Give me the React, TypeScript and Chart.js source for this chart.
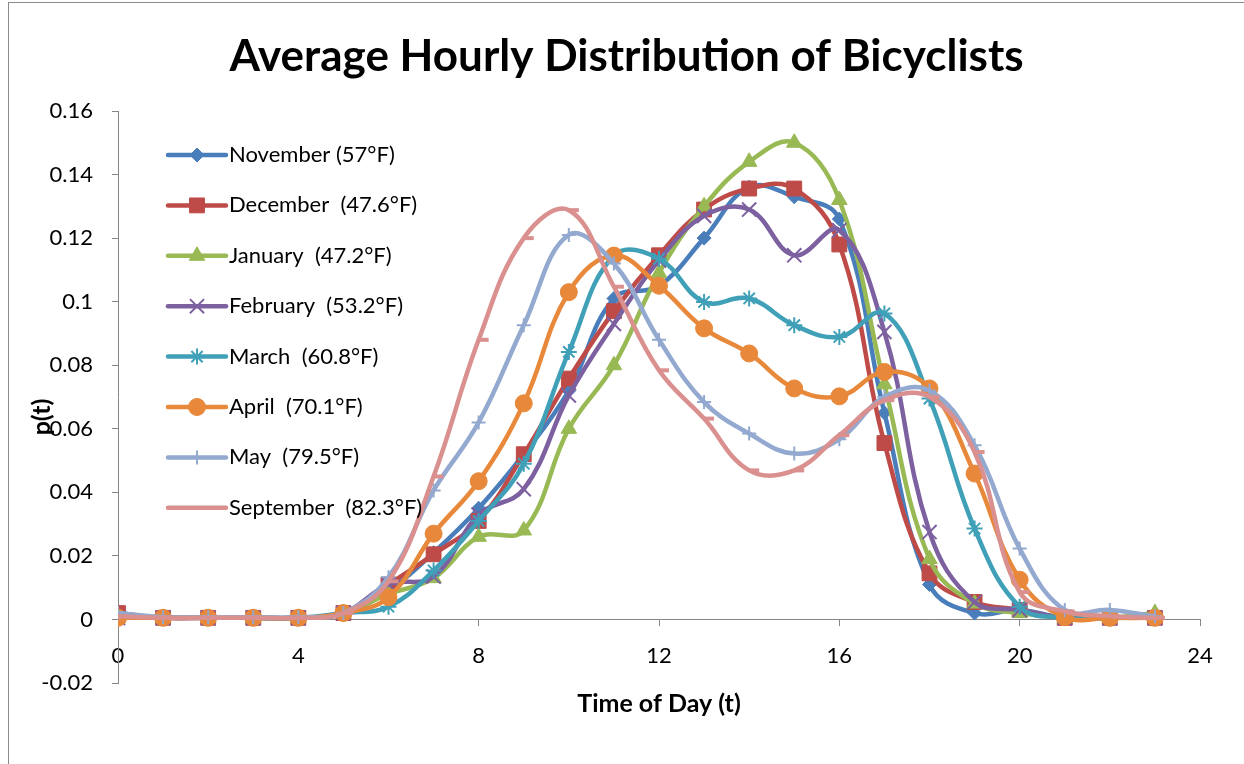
import React, { useEffect, useRef } from 'react';
import { Chart, registerables } from 'chart.js';

Chart.register(...registerables);

// ---------- data ----------
const hours = [0, 1, 2, 3, 4, 5, 6, 7, 8, 9, 10, 11, 12, 13, 14, 15, 16, 17, 18, 19, 20, 21, 22, 23];

const november = [0.001, 0.0005, 0.0005, 0.0005, 0.0005, 0.002, 0.009, 0.021, 0.035, 0.052, 0.072, 0.101, 0.105, 0.120, 0.136, 0.133, 0.126, 0.065, 0.011, 0.002, 0.003, 0.0005, 0.0005, 0.0005];
const december = [0.002, 0.0005, 0.0005, 0.0005, 0.0005, 0.002, 0.011, 0.0205, 0.031, 0.052, 0.0758, 0.097, 0.1146, 0.129, 0.1356, 0.1356, 0.118, 0.0555, 0.0145, 0.0055, 0.003, 0.0005, 0.0005, 0.0005];
const january = [0.0005, 0.0005, 0.0005, 0.0005, 0.0005, 0.002, 0.008, 0.013, 0.026, 0.028, 0.060, 0.080, 0.109, 0.130, 0.144, 0.150, 0.132, 0.074, 0.019, 0.005, 0.002, 0.0005, 0.0005, 0.002];
const february = [0.0005, 0.0005, 0.0005, 0.0005, 0.0005, 0.002, 0.011, 0.0135, 0.033, 0.041, 0.0705, 0.093, 0.113, 0.127, 0.129, 0.1146, 0.1225, 0.0905, 0.0275, 0.0055, 0.003, 0.0005, 0.0005, 0.0005];
const march = [0.0005, 0.0005, 0.0005, 0.0005, 0.0005, 0.002, 0.004, 0.0154, 0.031, 0.049, 0.0842, 0.1145, 0.1135, 0.0999, 0.101, 0.0926, 0.0889, 0.0963, 0.0695, 0.0286, 0.004, 0.0005, 0.0005, 0.0005];
const april = [0.0005, 0.0005, 0.0005, 0.0005, 0.0005, 0.002, 0.007, 0.027, 0.0435, 0.068, 0.103, 0.1145, 0.105, 0.0916, 0.0837, 0.0727, 0.0702, 0.0779, 0.0727, 0.0459, 0.0125, 0.0007, 0.0005, 0.0005];
const may = [0.002, 0.0007, 0.0007, 0.0007, 0.0007, 0.002, 0.0133, 0.0406, 0.062, 0.0926, 0.121, 0.112, 0.088, 0.0684, 0.0585, 0.0522, 0.0567, 0.070, 0.072, 0.0548, 0.0223, 0.003, 0.003, 0.001];
const september = [0.001, 0.0005, 0.0005, 0.0005, 0.0005, 0.002, 0.012, 0.045, 0.088, 0.120, 0.1288, 0.1047, 0.0784, 0.0632, 0.0469, 0.0469, 0.058, 0.069, 0.070, 0.0527, 0.0086, 0.0025, 0.001, 0.0005];

const seriesNames = [
  'November (57°F)',
  'December  (47.6°F)',
  'January  (47.2°F)',
  'February  (53.2°F)',
  'March  (60.8°F)',
  'April  (70.1°F)',
  'May  (79.5°F)',
  'September  (82.3°F)',
];
const seriesValues = [november, december, january, february, march, april, may, september];

const chartTitle = 'Average Hourly Distribution of Bicyclists';
const xTitle = 'Time of Day (t)';
const yTitle = 'p(t)';
const xMin = 0;
const xMax = 24;
const xStep = 4;
const yMin = -0.02;
const yMax = 0.16;
const yStep = 0.02;

// ---------- styles ----------
const seriesColors = ['#4A7EBB', '#BE4B48', '#98B954', '#7D60A0', '#3FA0B8', '#E8883A', '#93A9CF', '#D9908E'];
const markerStyles = ['rectRot', 'rect', 'triangle', 'crossRot', 'star', 'circle', 'cross', 'dash'];
const markerRadius = [7, 10.5, 9, 10, 8, 8.5, 7, 10];
const markerBorder = [1, 1, 1, 2, 2, 1, 2, 4];
const FONT = 'Lato';
const AXIS_COLOR = '#868686';

function drawMarker(ctx: CanvasRenderingContext2D, style: string, x: number, y: number, r: number, color: string, bw: number) {
  ctx.save();
  ctx.fillStyle = color;
  ctx.strokeStyle = color;
  ctx.lineWidth = bw;
  ctx.beginPath();
  switch (style) {
    case 'circle':
      ctx.arc(x, y, r, 0, Math.PI * 2);
      ctx.closePath();
      ctx.fill();
      ctx.stroke();
      break;
    case 'rect': {
      const s = r * Math.SQRT1_2;
      ctx.rect(x - s, y - s, 2 * s, 2 * s);
      ctx.fill();
      ctx.stroke();
      break;
    }
    case 'rectRot':
      ctx.moveTo(x, y - r);
      ctx.lineTo(x + r, y);
      ctx.lineTo(x, y + r);
      ctx.lineTo(x - r, y);
      ctx.closePath();
      ctx.fill();
      ctx.stroke();
      break;
    case 'triangle': {
      let a = 0;
      ctx.moveTo(x + Math.sin(a) * r, y - Math.cos(a) * r);
      a += (2 * Math.PI) / 3;
      ctx.lineTo(x + Math.sin(a) * r, y - Math.cos(a) * r);
      a += (2 * Math.PI) / 3;
      ctx.lineTo(x + Math.sin(a) * r, y - Math.cos(a) * r);
      ctx.closePath();
      ctx.fill();
      ctx.stroke();
      break;
    }
    case 'crossRot': {
      const d = r * Math.SQRT1_2;
      ctx.moveTo(x - d, y - d);
      ctx.lineTo(x + d, y + d);
      ctx.moveTo(x - d, y + d);
      ctx.lineTo(x + d, y - d);
      ctx.stroke();
      break;
    }
    case 'cross':
      ctx.moveTo(x, y - r);
      ctx.lineTo(x, y + r);
      ctx.moveTo(x - r, y);
      ctx.lineTo(x + r, y);
      ctx.stroke();
      break;
    case 'star': {
      const d = r * Math.SQRT1_2;
      ctx.moveTo(x, y - r);
      ctx.lineTo(x, y + r);
      ctx.moveTo(x - r, y);
      ctx.lineTo(x + r, y);
      ctx.moveTo(x - d, y - d);
      ctx.lineTo(x + d, y + d);
      ctx.moveTo(x - d, y + d);
      ctx.lineTo(x + d, y - d);
      ctx.stroke();
      break;
    }
    case 'dash':
      ctx.moveTo(x, y);
      ctx.lineTo(x + r, y);
      ctx.stroke();
      break;
    default:
      break;
  }
  ctx.restore();
}

// Legend drawn inside the plot area (vertical list at top-left) and the y-axis title
const insetLegend = {
  id: 'insetLegend',
  afterDatasetsDraw(chart: any) {
    const { ctx, chartArea } = chart;
    chart.data.datasets.forEach((ds: any, i: number) => {
      const y = chartArea.top + 44 + i * 50.4;
      const x0 = chartArea.left + 50;
      const x1 = chartArea.left + 108;
      ctx.save();
      ctx.strokeStyle = ds.borderColor;
      ctx.lineWidth = ds.borderWidth;
      ctx.lineCap = 'round';
      ctx.beginPath();
      ctx.moveTo(x0, y);
      ctx.lineTo(x1, y);
      ctx.stroke();
      ctx.restore();
      if (ds.pointStyle !== 'dash') {
        drawMarker(ctx, ds.pointStyle, (x0 + x1) / 2, y, ds.pointRadius, ds.borderColor, ds.pointBorderWidth);
      }
      ctx.save();
      ctx.fillStyle = '#000';
      ctx.font = `22px ${FONT}`;
      ctx.textAlign = 'left';
      ctx.textBaseline = 'middle';
      ctx.fillText(ds.label, chartArea.left + 111, y);
      ctx.restore();
    });
    // y-axis title
    ctx.save();
    ctx.translate(chartArea.left - 76, chartArea.top + 306);
    ctx.rotate(-Math.PI / 2);
    ctx.fillStyle = '#000';
    ctx.font = `bold 25px ${FONT}`;
    ctx.textAlign = 'center';
    ctx.textBaseline = 'middle';
    ctx.fillText(yTitle, 0, 0);
    ctx.restore();
  },
};

export default function App() {
  const canvasRef = useRef<HTMLCanvasElement>(null);

  useEffect(() => {
    const canvas = canvasRef.current;
    if (!canvas) return;

    const datasets = seriesValues.map((vals, i) => ({
      label: seriesNames[i],
      data: hours.map((h, j) => ({ x: h, y: vals[j] })),
      borderColor: seriesColors[i],
      backgroundColor: seriesColors[i],
      borderWidth: 4.5,
      borderCapStyle: 'round' as const,
      borderJoinStyle: 'round' as const,
      tension: 0.4,
      fill: false,
      pointStyle: markerStyles[i],
      pointRadius: markerRadius[i],
      pointBorderWidth: markerBorder[i],
      pointBackgroundColor: seriesColors[i],
      pointBorderColor: seriesColors[i],
      order: seriesValues.length - i,
    }));

    const chart = new Chart(canvas, {
      type: 'line',
      data: { datasets },
      plugins: [insetLegend],
      options: {
        responsive: false,
        animation: false,
        devicePixelRatio: 1,
        layout: { padding: { left: 0, right: 0, top: 0, bottom: 81 } },
        plugins: {
          legend: { display: false },
          tooltip: { enabled: false },
          title: {
            display: true,
            text: chartTitle,
            color: '#000',
            font: { family: FONT, size: 44, weight: 'bold', lineHeight: 1.2 },
            padding: { top: 30.6, bottom: 27.6 },
          },
        },
        scales: {
          x: {
            type: 'linear',
            position: { y: 0 },
            min: xMin,
            max: xMax,
            ticks: {
              stepSize: xStep,
              color: '#000',
              font: { family: FONT, size: 22 },
              padding: 17,
              maxRotation: 0,
              autoSkip: false,
            },
            grid: { drawOnChartArea: false, drawTicks: true, tickLength: 6, color: AXIS_COLOR },
            border: { display: true, color: AXIS_COLOR, width: 1 },
            title: {
              display: true,
              text: xTitle,
              color: '#000',
              font: { family: FONT, size: 25, weight: 'bold', lineHeight: 1.2 },
              padding: { top: 0, bottom: 18 },
            },
            afterFit: (s: any) => {
              s.height = 117;
            },
          },
          y: {
            type: 'linear',
            position: 'left',
            min: yMin,
            max: yMax,
            ticks: {
              stepSize: yStep,
              color: '#000',
              font: { family: FONT, size: 22 },
              padding: 19,
              callback: (v: any) => String(Math.round(Number(v) * 100) / 100),
            },
            grid: { drawOnChartArea: false, drawTicks: true, tickLength: 6, color: AXIS_COLOR },
            border: { display: true, color: AXIS_COLOR, width: 1 },
            title: { display: false },
            afterFit: (s: any) => {
              s.width = 118;
            },
          },
          yRight: {
            type: 'linear',
            position: 'right',
            display: true,
            ticks: { display: false },
            grid: { display: false },
            border: { display: false },
            afterFit: (s: any) => {
              s.width = 53;
            },
          },
        },
      } as any,
    });

    return () => chart.destroy();
  }, []);

  return (
    <div style={{ position: 'absolute', left: 0, top: 0, width: 1244, height: 764, overflow: 'hidden', background: '#fff' }}>
      <div
        style={{
          position: 'absolute',
          left: 8,
          top: 2,
          width: 2000,
          height: 2000,
          borderLeft: '1px solid #8a8a8a',
          borderTop: '1px solid #8a8a8a',
        }}
      />
      <canvas
        ref={canvasRef}
        width={1253}
        height={764}
        style={{ position: 'absolute', left: 0, top: 0, width: 1253, height: 764 }}
      />
    </div>
  );
}
